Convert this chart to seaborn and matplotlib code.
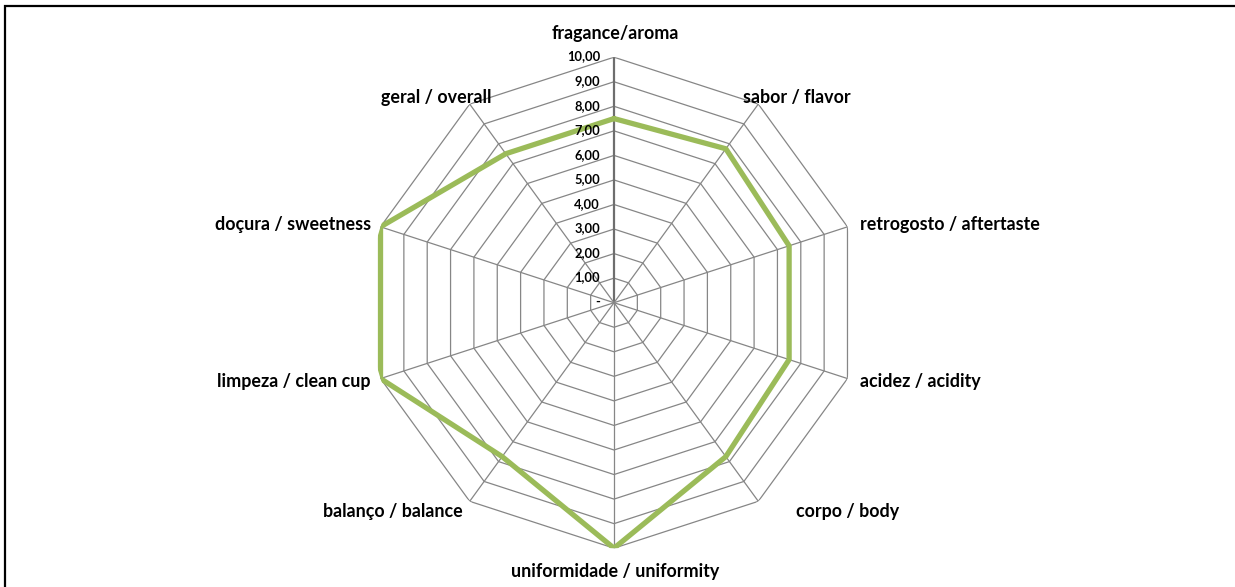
import numpy as np
import pandas as pd
import matplotlib
matplotlib.use("Agg")
import matplotlib.pyplot as plt
import seaborn as sns
from matplotlib.patches import Rectangle

# ── Data ────────────────────────────────────────────────────
categories = ["fragance/aroma", "sabor / flavor", "retrogosto / aftertaste",
              "acidez / acidity", "corpo / body", "uniformidade / uniformity",
              "balanço / balance", "limpeza / clean cup", "doçura / sweetness",
              "geral / overall"]
scores = [7.5, 7.75, 7.5, 7.5, 7.75, 10.0, 7.75, 10.0, 10.0, 7.5]
tick_values = [0, 1, 2, 3, 4, 5, 6, 7, 8, 9, 10]
tick_labels = ["-", "1,00", "2,00", "3,00", "4,00", "5,00", "6,00", "7,00",
               "8,00", "9,00", "10,00"]

# ── Style ──────────────────────────────────────────────────
sns.set_theme(style="white")
plt.rcParams["font.family"] = ["Lato", "DejaVu Sans"]
GREEN = "#9BBB59"
GRID = "#868686"
AXIS = "#6E6E6E"

W, H = 1235, 587
fig = plt.figure(figsize=(W / 100, H / 100), dpi=100)
cx, cy, R = 614, 302.7, 245.5
ax = fig.add_axes([(cx - R) / W, (H - cy - R) / H, 2 * R / W, 2 * R / H],
                  projection="polar")
ax.set_theta_zero_location("N")
ax.set_theta_direction(-1)
ax.set_ylim(0, 10)
ax.grid(False)
ax.set_xticks([])
ax.set_yticks([])
ax.spines["polar"].set_visible(False)
ax.patch.set_alpha(0)

n = len(categories)
theta = np.linspace(0, 2 * np.pi, n, endpoint=False)
theta_closed = np.append(theta, theta[0])

# polygon grid
for lvl in tick_values[1:]:
    ax.plot(theta_closed, [lvl] * (n + 1), color=GRID, lw=0.9, zorder=1)
# spokes
for i, t in enumerate(theta):
    ax.plot([t, t], [0, 10], color=AXIS if i == 0 else GRID,
            lw=1.6 if i == 0 else 0.9, zorder=1)

# data series
df = pd.DataFrame({"theta": theta_closed, "score": scores + [scores[0]]})
sns.lineplot(data=df, x="theta", y="score", sort=False, estimator=None,
             color=GREEN, lw=3.8, ax=ax, zorder=3)
ax.set_xlabel("")
ax.set_ylabel("")

# value tick labels along the top axis
for v, lab in zip(tick_values, tick_labels):
    ax.annotate(lab, (0, v), xytext=(-10, 0.5), textcoords="offset points",
                ha="right", va="center", fontsize=9.3, fontweight="bold",
                color="black")

# category labels
label_style = [
    ("center", "center", (1, 17)),
    ("left", "center", (-11, 4.5)),
    ("left", "center", (9, 2)),
    ("left", "center", (9, -2)),
    ("left", "center", (27, -7)),
    ("center", "center", (1, -17)),
    ("right", "center", (-5, -7)),
    ("right", "center", (-7, -2)),
    ("right", "center", (-7, 2)),
    ("right", "center", (16, 4.5)),
]
for t, lab, (ha, va, off) in zip(theta, categories, label_style):
    ax.annotate(lab, (t, 10), xytext=off, textcoords="offset points",
                ha=ha, va=va, fontsize=12.9, fontweight="bold", color="black",
                annotation_clip=False)

# outer frame
fig.patches.append(Rectangle((5 / W, -0.1), 1.2, (H - 6) / H + 0.1,
                             transform=fig.transFigure, fill=False,
                             edgecolor="black", lw=1.6))

fig.savefig("out.png", dpi=100, facecolor="white")
